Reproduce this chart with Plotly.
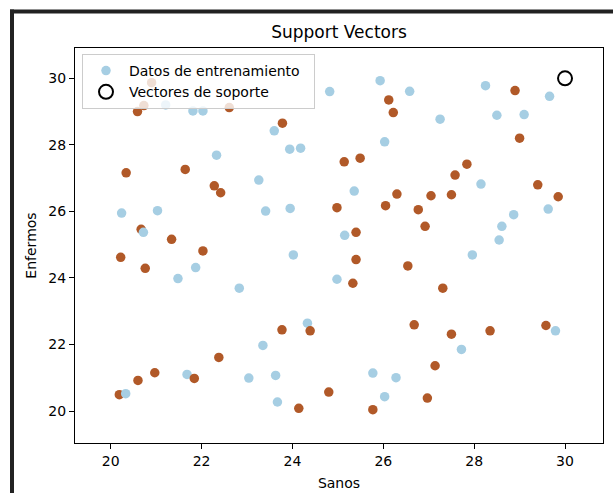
import plotly.graph_objects as go

# Training data (Sanos, Enfermos) with class labels (0 = light blue, 1 = brown)
train_x = [24.33, 21.68,
           20.90, 20.73, 20.59, 22.61, 23.78, 20.34, 21.64, 22.28, 22.42, 24.98,
           20.67, 21.34, 22.03, 20.22, 20.76, 23.77, 24.39, 22.38, 20.97, 20.60,
           21.84, 20.19, 24.14, 24.80, 26.12, 26.22, 28.90, 29.00, 25.14, 25.49,
           27.84, 27.58, 29.40, 29.85, 26.30, 27.05, 27.50, 26.05, 26.77, 26.92,
           25.40, 25.40, 26.54, 25.33, 27.31, 26.68, 27.50, 28.35, 29.58, 27.14,
           26.97, 25.77,
           21.21, 21.81, 22.03, 23.60, 23.94, 24.18, 24.82, 22.33, 23.26, 20.24,
           21.03, 23.41, 23.95, 20.72, 21.87, 21.48, 24.02, 22.83, 24.98, 23.35,
           23.04, 23.63, 20.33, 23.67, 25.93, 26.58, 27.25, 28.25, 29.66, 28.50,
           29.10, 26.03, 28.15, 25.36, 28.87, 29.63, 28.61, 28.55, 25.15, 27.96,
           29.79, 27.72, 25.77, 26.28, 26.03]
train_y = [22.64, 21.10,
           29.87, 29.18, 29.00, 29.12, 28.65, 27.16, 27.26, 26.77, 26.56, 26.11,
           25.46, 25.16, 24.81, 24.62, 24.29, 22.44, 22.41, 21.61, 21.15, 20.92,
           20.98, 20.49, 20.08, 20.57, 29.35, 28.97, 29.63, 28.20, 27.49, 27.60,
           27.42, 27.09, 26.80, 26.44, 26.52, 26.47, 26.50, 26.17, 26.05, 25.55,
           25.37, 24.55, 24.36, 23.84, 23.69, 22.59, 22.31, 22.41, 22.57, 21.36,
           20.39, 20.04,
           29.20, 29.02, 29.02, 28.42, 27.87, 27.90, 29.60, 27.69, 26.94, 25.95,
           26.02, 26.01, 26.09, 25.37, 24.31, 23.98, 24.69, 23.69, 23.96, 21.97,
           20.99, 21.07, 20.52, 20.27, 29.93, 29.61, 28.77, 29.78, 29.46, 28.89,
           28.91, 28.09, 26.82, 26.61, 25.90, 26.07, 25.55, 25.14, 25.28, 24.69,
           22.41, 21.85, 21.14, 21.00, 20.43]
train_cls = [0, 0] + [1] * 52 + [0] * 45

# Support vectors
sv_x = [30.0]
sv_y = [30.0]

class_colors = {0: "#a6cee3", 1: "#b15928"}
point_colors = [class_colors[c] for c in train_cls]

W, H = 613, 493
ML, MR, MT, MB = 75, 10, 48, 50
PW, PH = W - ML - MR, H - MT - MB


def px_to_paper_x(px):
    return (px - ML) / PW


def px_to_paper_y(py):
    return (H - MB - py) / PH


fig = go.Figure()
fig.add_trace(go.Scatter(
    x=train_x, y=train_y, mode="markers",
    name="Datos de entrenamiento\u00a0\u00a0",
    marker=dict(color=point_colors, size=9.5, line=dict(width=0)),
))
fig.add_trace(go.Scatter(
    x=sv_x, y=sv_y, mode="markers", name="Vectores de soporte",
    marker=dict(color="rgba(0,0,0,0)", size=14, symbol="circle",
                line=dict(color="black", width=2)),
))

axis_common = dict(
    showgrid=False, zeroline=False, showline=True, mirror=True,
    linecolor="black", linewidth=1, ticks="outside", ticklen=5,
    tickwidth=1, tickcolor="black", automargin=False,
    tickfont=dict(family="DejaVu Sans", size=14, color="black"),
)

fig.update_layout(
    width=W, height=H,
    margin=dict(l=ML, r=MR, t=MT, b=MB),
    paper_bgcolor="white", plot_bgcolor="white",
    font=dict(family="DejaVu Sans", size=14, color="black"),
    title=dict(text="Support Vectors", x=0.5, xref="paper", xanchor="center",
               y=1 - 32 / H, yref="container", yanchor="middle",
               font=dict(family="DejaVu Sans", size=17, color="black")),
    xaxis=dict(range=[19.214, 30.836], tickmode="array",
               tickvals=[20, 22, 24, 26, 28, 30],
               title=dict(text="Sanos", standoff=10,
                          font=dict(family="DejaVu Sans", size=14)),
               **axis_common),
    yaxis=dict(range=[19.038, 30.911], tickmode="array",
               tickvals=[20, 22, 24, 26, 28, 30],
               title=dict(text="Enfermos", standoff=8,
                          font=dict(family="DejaVu Sans", size=14)),
               **axis_common),
    legend=dict(x=px_to_paper_x(82), y=px_to_paper_y(54), xanchor="left",
                yanchor="top", bgcolor="rgba(255,255,255,0.8)",
                bordercolor="#cccccc", borderwidth=1, itemwidth=36,
                font=dict(family="DejaVu Sans", size=14, color="black")),
    showlegend=True,
    shapes=[
        dict(type="line", xref="paper", yref="paper",
             x0=px_to_paper_x(10), x1=px_to_paper_x(640),
             y0=px_to_paper_y(11.5), y1=px_to_paper_y(11.5),
             line=dict(color="#222222", width=4)),
        dict(type="line", xref="paper", yref="paper",
             x0=px_to_paper_x(12), x1=px_to_paper_x(12),
             y0=px_to_paper_y(9.5), y1=px_to_paper_y(520),
             line=dict(color="#222222", width=4)),
    ],
)

fig.write_html("out.html",
               config={"displayModeBar": False},
               post_script="document.body.style.margin='0';")
